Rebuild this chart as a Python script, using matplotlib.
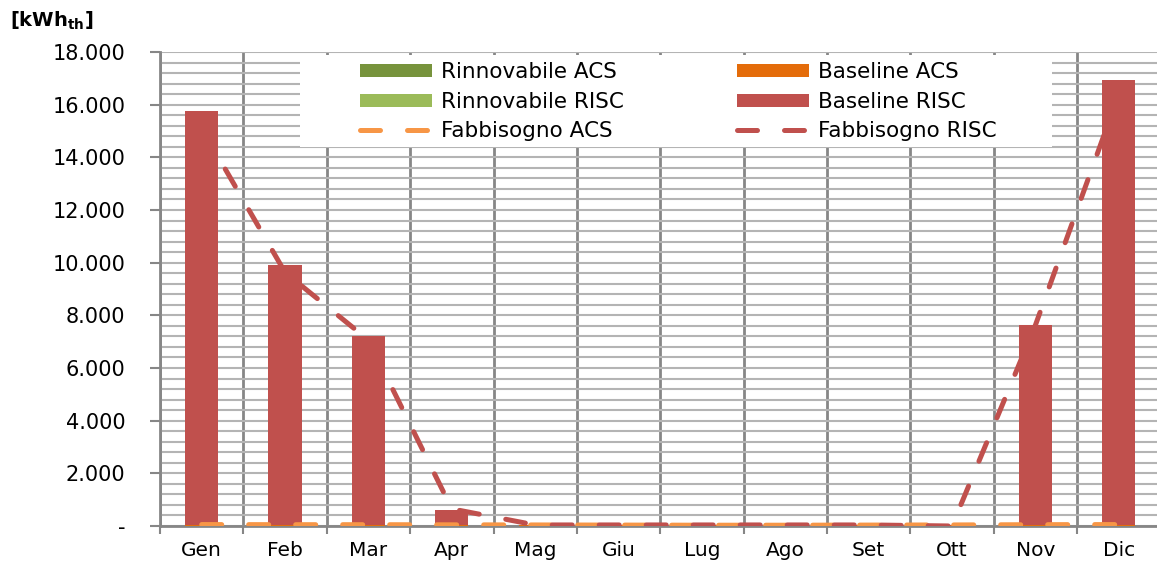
import numpy as np
import matplotlib
matplotlib.use('Agg')
import matplotlib.pyplot as plt
from matplotlib.patches import Rectangle
from matplotlib.ticker import FuncFormatter, MultipleLocator

mesi = ['Gen', 'Feb', 'Mar', 'Apr', 'Mag', 'Giu', 'Lug', 'Ago', 'Set', 'Ott', 'Nov', 'Dic']

# monthly thermal energy [kWh_th]
rinnovabile_acs = [0, 0, 0, 0, 0, 0, 0, 0, 0, 0, 0, 0]
baseline_acs = [55, 50, 50, 45, 40, 35, 30, 30, 35, 40, 50, 55]
rinnovabile_risc = [0, 0, 0, 0, 0, 0, 0, 0, 0, 0, 0, 0]
baseline_risc = [15720, 9870, 7180, 570, 0, 0, 0, 0, 0, 0, 7600, 16900]
fabbisogno_acs = [55, 50, 50, 45, 40, 35, 30, 30, 35, 40, 50, 55]
fabbisogno_risc = [15100, 9630, 7060, 650, 40, 40, 40, 40, 40, 0, 7630, 16400]

C_RIN_ACS = '#77933C'
C_BASE_ACS = '#E46C0A'
C_RIN_RISC = '#9BBB59'
C_BASE_RISC = '#C0504D'
C_FAB_ACS = '#F79646'
C_FAB_RISC = '#C0504D'

W, H = 1157, 565
fig = plt.figure(figsize=(W / 100, H / 100), dpi=100)
ax = fig.add_axes([160 / W, 1 - 526 / H, 1000.5 / W, 474 / H])

x = np.arange(len(mesi))
bw = 0.4

# stacked columns
bottom = np.zeros(len(mesi))
bars = []
for vals, col, lab in [(rinnovabile_acs, C_RIN_ACS, 'Rinnovabile ACS'),
                       (baseline_acs, C_BASE_ACS, 'Baseline ACS'),
                       (rinnovabile_risc, C_RIN_RISC, 'Rinnovabile RISC'),
                       (baseline_risc, C_BASE_RISC, 'Baseline RISC')]:
    b = ax.bar(x, vals, bw, bottom=bottom, color=col, label=lab, zorder=3, linewidth=0)
    bars.append(b)
    bottom += np.array(vals)

lw = 3.6
l_acs, = ax.plot(x, fabbisogno_acs, color=C_FAB_ACS, lw=lw, dashes=(4, 5.4),
                 dash_capstyle='round', label='Fabbisogno ACS', zorder=4)
l_risc, = ax.plot(x, fabbisogno_risc, color=C_FAB_RISC, lw=lw, dashes=(4, 5.4),
                  dash_capstyle='round', label='Fabbisogno RISC', zorder=5)

ax.set_xlim(-0.5, 11.5)
ax.set_ylim(0, 18000)

# category boundaries carry the ticks and vertical grid, names sit in between
ax.set_xticks(np.arange(-0.5, 12, 1))
ax.set_xticklabels([])
ax.set_xticks(x, minor=True)
ax.set_xticklabels(mesi, minor=True, fontsize=14.5)
ax.tick_params(axis='x', which='major', length=6, width=1.5, color='#868686')
ax.tick_params(axis='x', which='minor', length=0, pad=11)

ax.yaxis.set_major_locator(MultipleLocator(2000))
ax.yaxis.set_minor_locator(MultipleLocator(400))
ax.yaxis.set_major_formatter(FuncFormatter(
    lambda v, p: '-' if v == 0 else f'{int(v):,}'.replace(',', '.')))
ax.tick_params(axis='y', which='major', length=7, width=1.5, color='#868686',
               labelsize=15, pad=18)
ax.tick_params(axis='y', which='minor', length=0)

ax.grid(axis='y', which='both', color='#B4B4B4', lw=1.5, zorder=0)
ax.grid(axis='x', which='major', color='#868686', lw=2, zorder=0)
ax.set_axisbelow(True)

for s in ['top', 'right']:
    ax.spines[s].set_visible(False)
for s in ['left', 'bottom']:
    ax.spines[s].set_color('#868686')
    ax.spines[s].set_linewidth(2)

# white panel behind the legend
ax.add_patch(Rectangle((0.140, 0.7996), 0.7515, 0.194, transform=ax.transAxes,
                       facecolor='white', edgecolor='none', zorder=1))

handles = [bars[0], bars[2], l_acs, bars[1], bars[3], l_risc]
labels = [h.get_label() for h in handles]
ax.legend(handles, labels, ncol=2, loc='upper left', bbox_to_anchor=(0.1999, 0.979),
          frameon=False, fontsize=15.5, handlelength=3.35, handleheight=0.55,
          handletextpad=0.42, columnspacing=5.25, labelspacing=0.45,
          borderpad=0, borderaxespad=0)

fig.text(10 / W, 1 - 21 / H, r'$\mathbf{[kWh_{th}]}$', fontsize=14, va='center', ha='left')

fig.savefig('out.png', dpi=100)
